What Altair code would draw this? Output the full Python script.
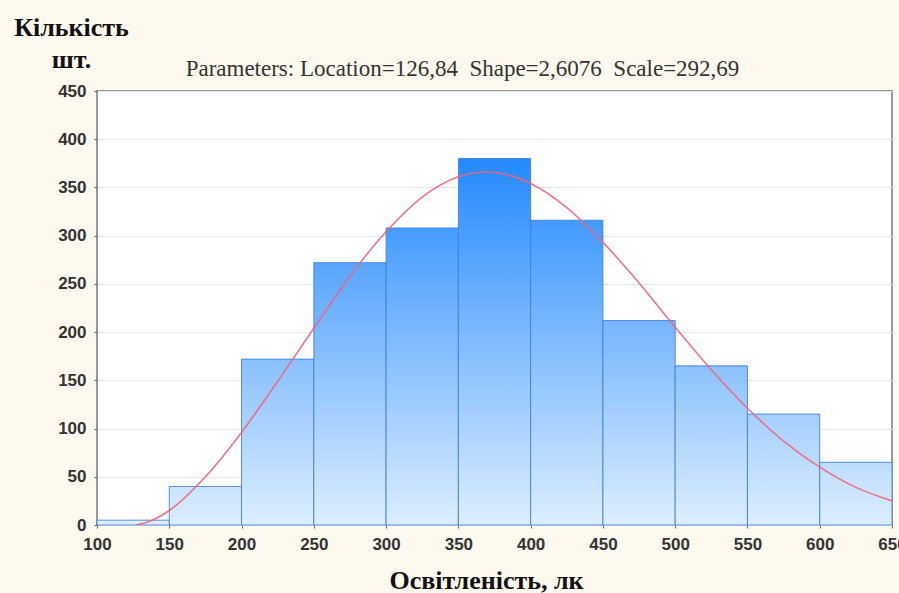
import altair as alt
import pandas as pd

# ---- data ----
bin_start = [100, 150, 200, 250, 300, 350, 400, 450, 500, 550, 600]
bin_end = [150, 200, 250, 300, 350, 400, 450, 500, 550, 600, 650]
counts = [5, 40, 172, 272, 308, 380, 316, 212, 165, 115, 65]

curve_x = [127, 135, 150, 175, 200, 225, 250, 275, 300, 325, 350, 370,
           400, 425, 450, 475, 500, 525, 550, 575, 600, 625, 650]
curve_y = [0, 3, 15, 50, 96, 149, 204, 258, 304, 340, 361, 366,
           354, 329, 293, 251, 205, 161, 121, 87, 60, 39, 25]

x_ticks = [100, 150, 200, 250, 300, 350, 400, 450, 500, 550, 600, 650]
y_ticks = [0, 50, 100, 150, 200, 250, 300, 350, 400, 450]

title_text = "Parameters: Location=126,84\u00a0\u00a0Shape=2,6076\u00a0\u00a0Scale=292,69"
y_title = ["Кількість", "шт."]
x_title = "Освітленість, лк"

# ---- styling ----
BOTTOM = (221, 238, 254)
TOP = (30, 134, 255)
GRAD_FULL = 390.0


def lerp_hex(t):
    t = max(0.0, min(1.0, t))
    r, g, b = (round(BOTTOM[i] + (TOP[i] - BOTTOM[i]) * t) for i in range(3))
    return f"#{r:02x}{g:02x}{b:02x}"


x_enc_kwargs = dict(
    scale=alt.Scale(domain=[100, 650], nice=False, zero=False),
    axis=alt.Axis(values=x_ticks, grid=False, title=x_title, format="d",
                  labelFlush=False,
                  titleY=63, titleX=389, titleBaseline="alphabetic"),
)
y_enc_kwargs = dict(
    scale=alt.Scale(domain=[0, 450], nice=False),
    axis=alt.Axis(values=y_ticks, grid=True, title=y_title, format="d",
                  labelFlush=False,
                  titleAngle=0, titleAlign="center", titleBaseline="alphabetic",
                  titleX=-26, titleY=-56, titleLineHeight=32),
)

layers = []
for lo, hi, c in zip(bin_start, bin_end, counts):
    df = pd.DataFrame({"lo": [lo], "hi": [hi], "count": [c]})
    grad = alt.Gradient(
        gradient="linear",
        stops=[alt.GradientStop(color=lerp_hex(c / GRAD_FULL), offset=0),
               alt.GradientStop(color=lerp_hex(0), offset=1)],
        x1=0, x2=0, y1=0, y2=1,
    )
    layers.append(
        alt.Chart(df).mark_rect(color=grad, stroke="#3d7ce0", strokeWidth=1,
                                strokeOpacity=0.85)
        .encode(
            x=alt.X("lo:Q", **x_enc_kwargs),
            x2="hi:Q",
            y=alt.Y("count:Q", **y_enc_kwargs),
            y2=alt.datum(0),
        )
    )

curve_df = pd.DataFrame({"lo": curve_x, "count": curve_y})
curve = alt.Chart(curve_df).mark_line(
    color="#f0647a", strokeWidth=1.6, interpolate="monotone", clip=True, opacity=0.9
).encode(
    x=alt.X("lo:Q", **x_enc_kwargs),
    y=alt.Y("count:Q", **y_enc_kwargs),
)
layers.append(curve)

chart = alt.layer(*layers).properties(
    width=795,
    height=434,
    autosize=alt.AutoSizeParams(type="none"),
    padding={"left": 97, "top": 91, "right": 7, "bottom": 68},
    background="#fdf9ef",
    title=alt.TitleParams(
        text=title_text, anchor="middle", dx=-32, offset=-85,
        baseline="alphabetic", font="Liberation Serif", fontSize=23,
        fontWeight="normal", color="#333333",
    ),
).configure_view(
    fill="white", stroke="#9a9a9a", strokeWidth=2
).configure_axis(
    domain=False,
    gridColor="#e6e6e6",
    gridWidth=1,
    tickColor="#666666",
    tickSize=3,
    labelFont="Liberation Sans",
    labelFontSize=17,
    labelFontWeight="bold",
    labelColor="#333333",
    titleFont="Liberation Serif",
    titleFontSize=26,
    titleFontWeight="bold",
    titleColor="#111111",
).configure_axisX(
    labelPadding=8,
).configure_axisY(
    labelPadding=8,
)

chart.save("out.html", embed_options={"renderer": "svg", "actions": False})
